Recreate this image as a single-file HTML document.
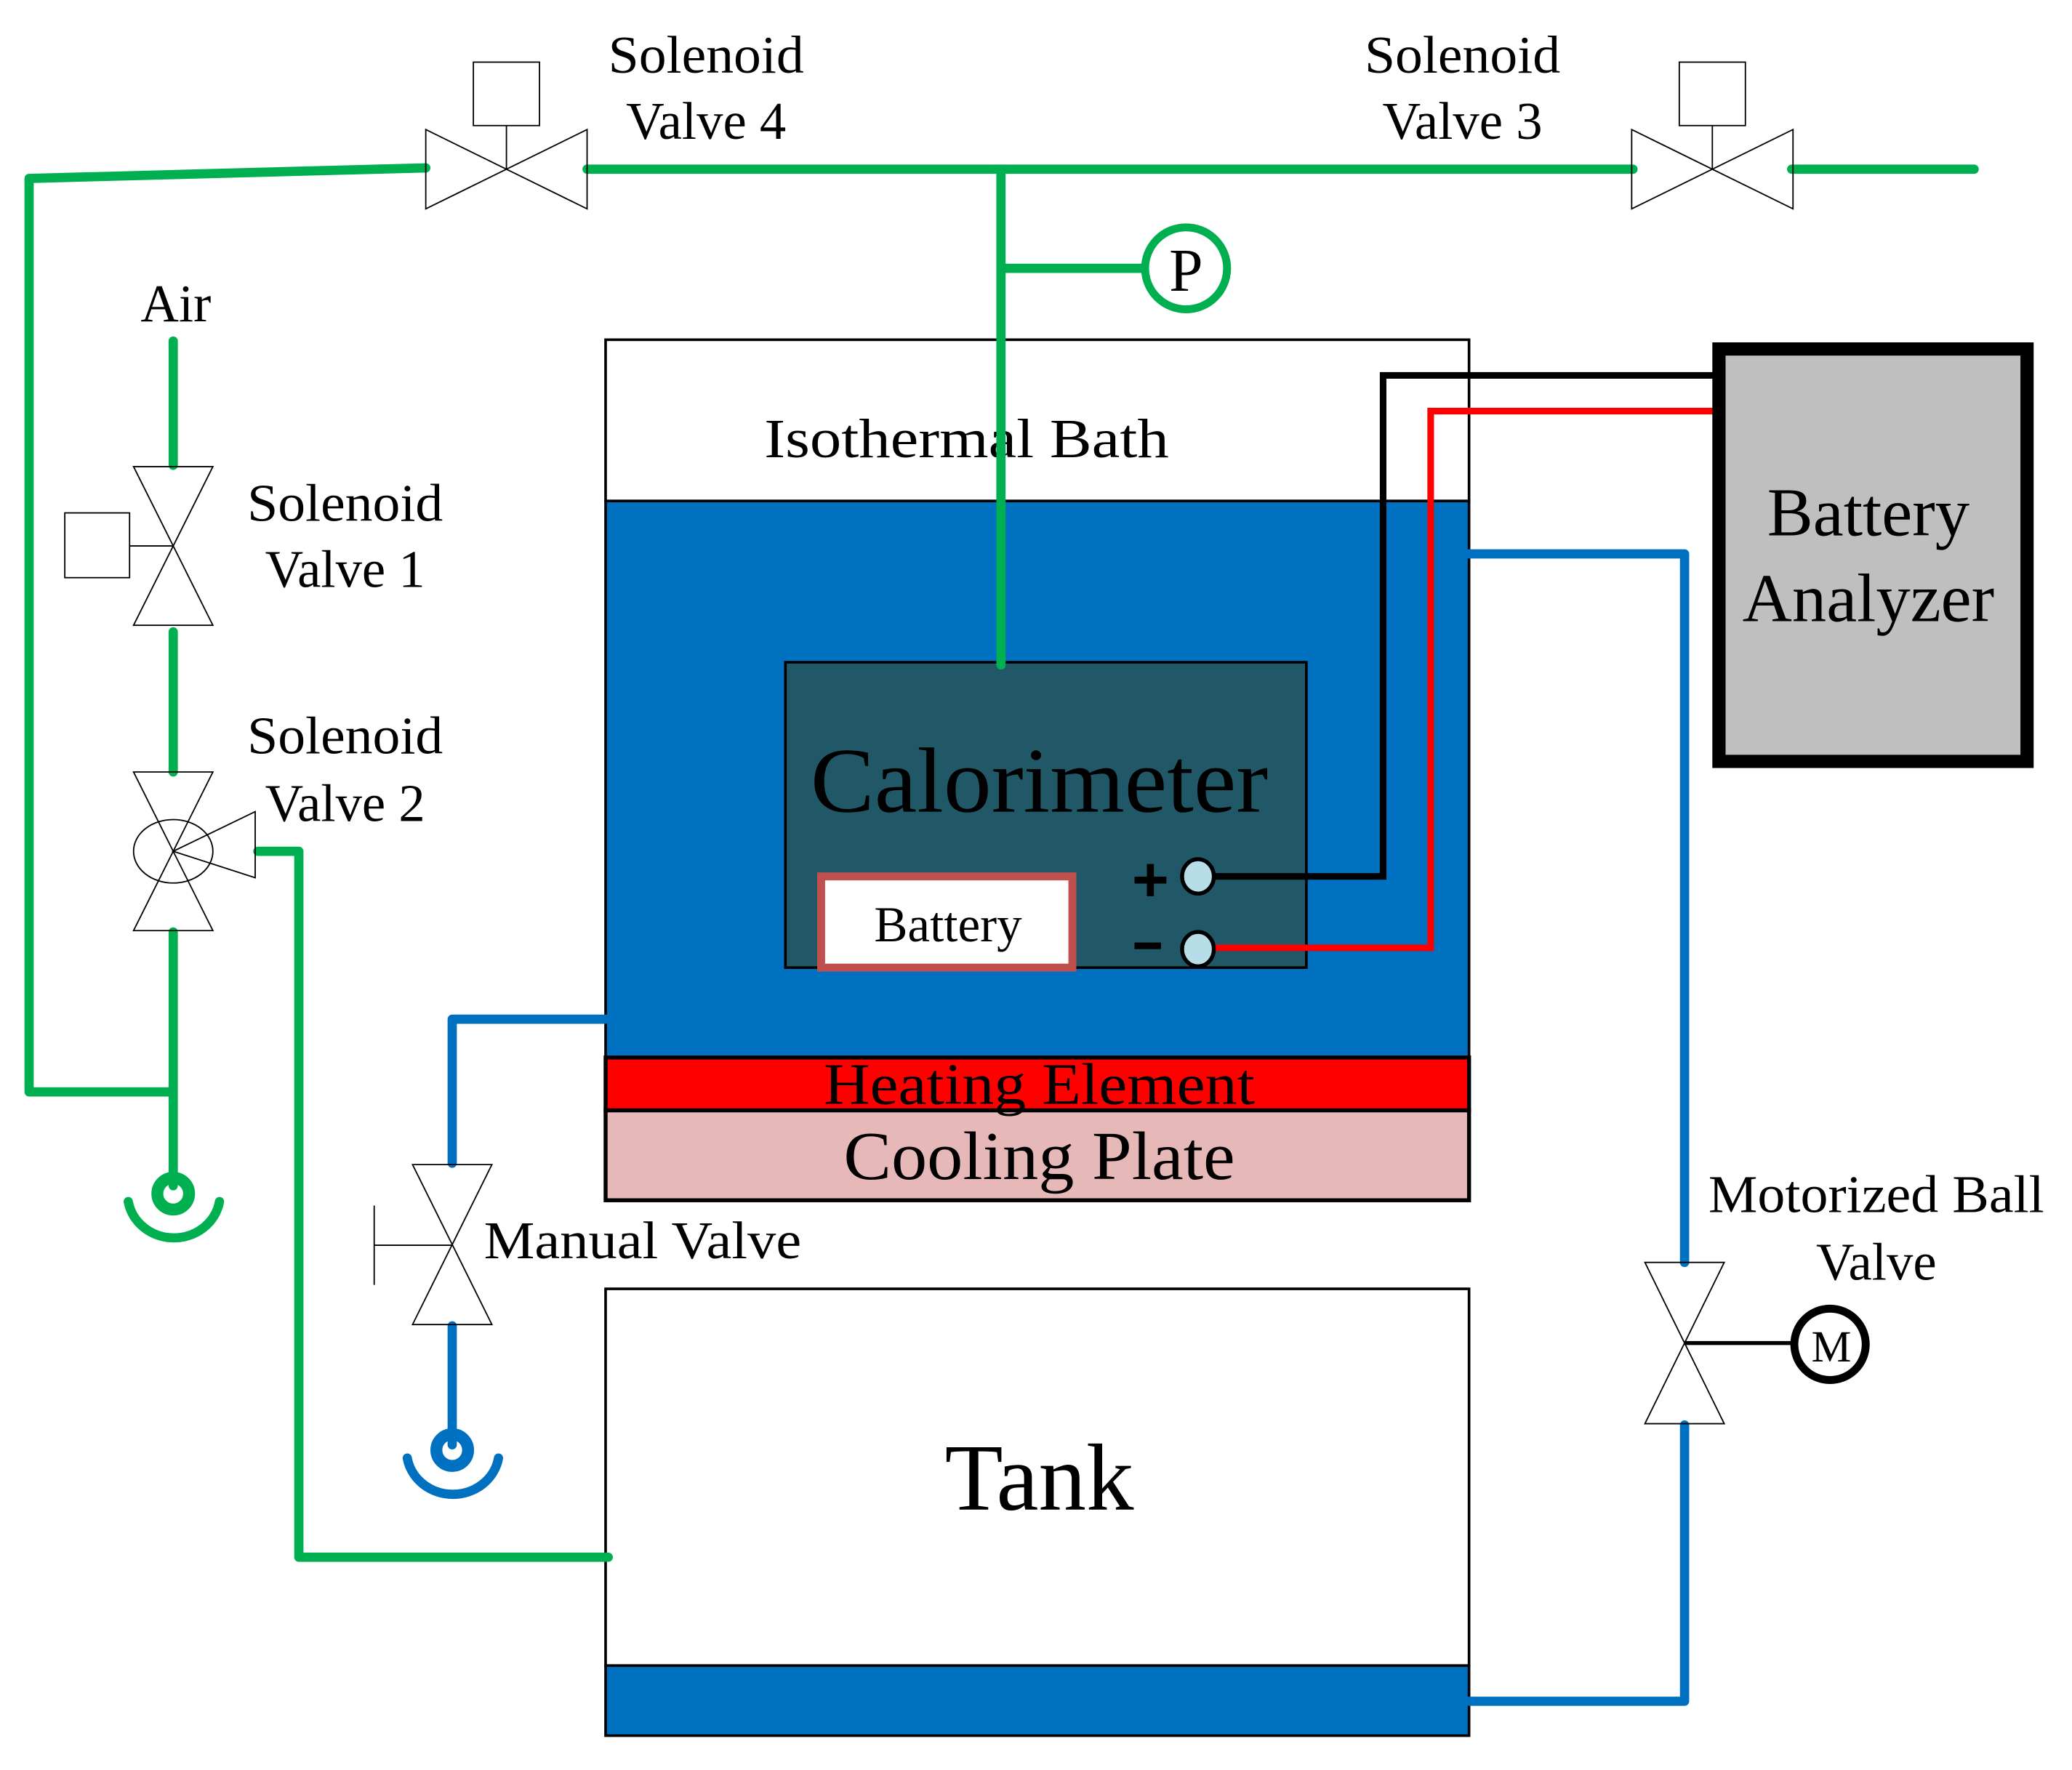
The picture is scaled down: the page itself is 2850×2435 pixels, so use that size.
<!DOCTYPE html>
<html><head><meta charset="utf-8"><style>html,body{margin:0;padding:0;background:#fff}svg{display:block}</style></head>
<body>
<svg width="2850" height="2435" viewBox="0 0 1567 1339" preserveAspectRatio="none" xmlns="http://www.w3.org/2000/svg" font-family="'Liberation Serif', serif">
<rect width="1567" height="1339" fill="#fff"/>
<rect x="458" y="257" width="653" height="122" fill="#fff" stroke="#000" stroke-width="2"/>
<rect x="458" y="379" width="653" height="421" fill="#0070C0" stroke="#000" stroke-width="2"/>
<rect x="458" y="800" width="653" height="40" fill="#FF0000" stroke="#000" stroke-width="3"/>
<rect x="458" y="840" width="653" height="68" fill="#E6B8B7" stroke="#000" stroke-width="3"/>
<text x="731" y="346" font-size="42" text-anchor="middle" textLength="306" lengthAdjust="spacingAndGlyphs">Isothermal Bath</text>
<text x="786" y="835" font-size="44" text-anchor="middle" textLength="326" lengthAdjust="spacingAndGlyphs">Heating Element</text>
<text x="786" y="892" font-size="52" text-anchor="middle" textLength="296" lengthAdjust="spacingAndGlyphs">Cooling Plate</text>
<rect x="594" y="501" width="394" height="231" fill="#215868" stroke="#000" stroke-width="2"/>
<text x="786" y="614" font-size="70" text-anchor="middle" textLength="346" lengthAdjust="spacingAndGlyphs">Calorimeter</text>
<rect x="621" y="663" width="190" height="69" fill="#fff" stroke="#C0504D" stroke-width="6"/>
<text x="717" y="712" font-size="38" text-anchor="middle">Battery</text>
<text x="870" y="682" font-size="48" font-weight="bold" font-family="'Liberation Sans',sans-serif" text-anchor="middle">+</text>
<rect x="858" y="713" width="20" height="5" fill="#000"/>
<polyline points="918,663 1046,663 1046,284 1298,284" fill="none" stroke="#000" stroke-width="5"/>
<polyline points="918,717 1082,717 1082,311 1303,311" fill="none" stroke="#FF0000" stroke-width="5"/>
<ellipse cx="906" cy="663" rx="12" ry="13" fill="#B7DDE8" stroke="#000" stroke-width="3"/>
<ellipse cx="906" cy="718" rx="12" ry="13" fill="#B7DDE8" stroke="#000" stroke-width="3"/>
<rect x="1300" y="264" width="233" height="312" fill="#BFBFBF" stroke="#000" stroke-width="10"/>
<text x="1413" y="405" font-size="52" text-anchor="middle">Battery</text>
<text x="1413" y="470" font-size="52" text-anchor="middle">Analyzer</text>
<rect x="458" y="975" width="653" height="285" fill="#fff" stroke="#000" stroke-width="2"/>
<rect x="458" y="1260" width="653" height="53" fill="#0070C0" stroke="#000" stroke-width="2"/>
<text x="786" y="1142" font-size="72" text-anchor="middle">Tank</text>
<g fill="none" stroke="#00B050" stroke-width="7" stroke-linecap="round" stroke-linejoin="round">
<polyline points="322,127 22,135 22,826 131,826"/>
<line x1="444" y1="128" x2="1235" y2="128"/>
<line x1="1355" y1="128" x2="1493" y2="128"/>
<polyline points="757,128 757,503"/>
<line x1="757" y1="203" x2="866" y2="203"/>
<line x1="131" y1="258" x2="131" y2="352"/>
<line x1="131" y1="478" x2="131" y2="584"/>
<line x1="131" y1="705" x2="131" y2="897"/>
<polyline points="195,644 226,644 226,1178 460,1178"/>
<circle cx="131" cy="903" r="12" stroke-width="9"/>
<path d="M97,909 A35,33 0 0 0 166,909"/>
</g>
<circle cx="897" cy="203" r="31" fill="#fff" stroke="#00B050" stroke-width="6"/>
<text x="897" y="220" font-size="46" text-anchor="middle">P</text>
<g fill="none" stroke="#0070C0" stroke-width="7" stroke-linecap="round" stroke-linejoin="round">
<polyline points="1111,419 1274,419 1274,955"/>
<polyline points="1274,1078 1274,1287 1111,1287"/>
<polyline points="458,771 342,771 342,880"/>
<line x1="342" y1="1003" x2="342" y2="1093"/>
<circle cx="342" cy="1097" r="12" stroke-width="9"/>
<path d="M308,1103 A35,33 0 0 0 377,1103"/>
</g>
<g fill="none" stroke="#000" stroke-width="1">
<polygon points="322,98 322,158 444,98 444,158"/>
<line x1="383" y1="128" x2="383" y2="95"/>
<rect x="358" y="47" width="50" height="48"/>
<polygon points="1234,98 1234,158 1356,98 1356,158"/>
<line x1="1295" y1="128" x2="1295" y2="95"/>
<rect x="1270" y="47" width="50" height="48"/>
<polygon points="101,353 161,353 101,473 161,473"/>
<line x1="98" y1="413" x2="131" y2="413"/>
<rect x="49" y="388" width="49" height="49"/>
<polygon points="101,584 161,584 101,704 161,704"/>
<ellipse cx="131" cy="644" rx="30" ry="24"/>
<polygon points="131,644 193,614 193,664"/>
<polygon points="312,881 372,881 312,1002 372,1002"/>
<line x1="283" y1="942" x2="342" y2="942"/>
<line x1="283" y1="912" x2="283" y2="972"/>
<polygon points="1244,955 1304,955 1244,1077 1304,1077"/>
</g>
<line x1="1274" y1="1016" x2="1357" y2="1016" stroke="#000" stroke-width="3"/>
<circle cx="1384" cy="1017" r="27" fill="#fff" stroke="#000" stroke-width="6"/>
<text x="1385" y="1030" font-size="34" text-anchor="middle">M</text>
<g font-size="40" text-anchor="middle">
<text x="534" y="55" textLength="148" lengthAdjust="spacingAndGlyphs">Solenoid</text>
<text x="534" y="105">Valve 4</text>
<text x="1106" y="55" textLength="148" lengthAdjust="spacingAndGlyphs">Solenoid</text>
<text x="1106" y="105">Valve 3</text>
<text x="133" y="243">Air</text>
<text x="261" y="394" textLength="148" lengthAdjust="spacingAndGlyphs">Solenoid</text>
<text x="261" y="444">Valve 1</text>
<text x="261" y="570" textLength="148" lengthAdjust="spacingAndGlyphs">Solenoid</text>
<text x="261" y="621">Valve 2</text>
<text x="1419" y="917" textLength="254" lengthAdjust="spacingAndGlyphs">Motorized Ball</text>
<text x="1419" y="968">Valve</text>
</g>
<text x="366" y="952" font-size="40" textLength="240" lengthAdjust="spacingAndGlyphs">Manual Valve</text>
</svg>
</body></html>
